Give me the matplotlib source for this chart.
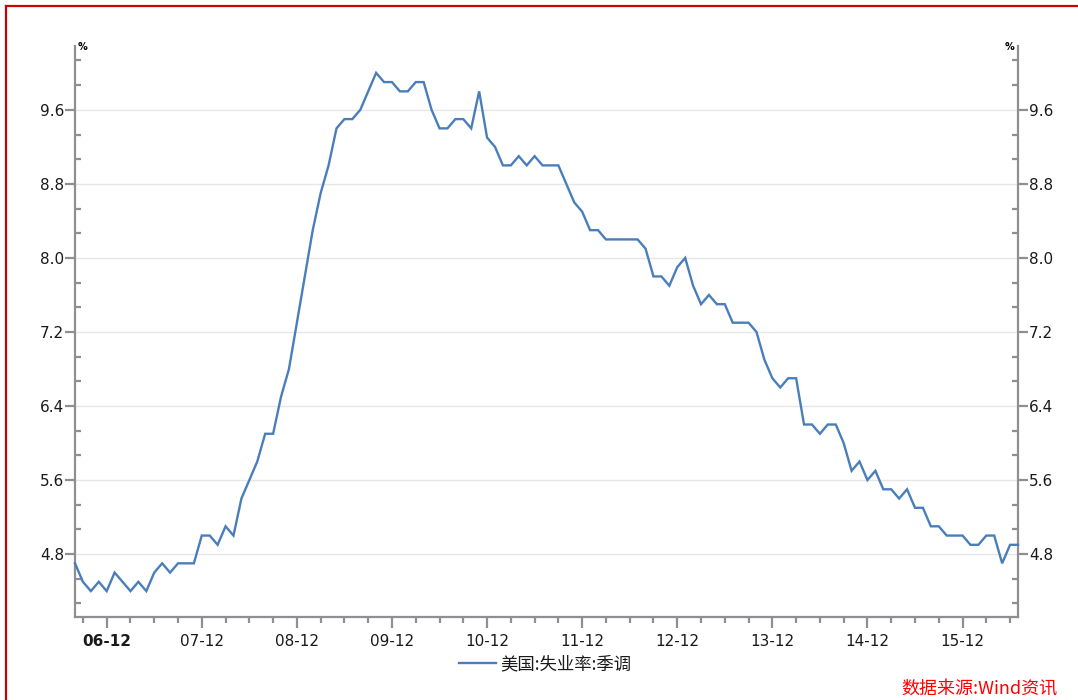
import matplotlib
matplotlib.use("Agg")
import matplotlib.pyplot as plt
from matplotlib.ticker import FixedLocator, NullFormatter
from matplotlib.lines import Line2D
import numpy as np

plt.rcParams['font.family'] = ['DejaVu Sans', 'Noto Sans CJK SC']

# Monthly US unemployment rate (SA), Aug 2006 .. Jul 2016
start_year, start_month = 2006, 8
rate = [
    4.7, 4.5, 4.4, 4.5, 4.4,                                      # 2006 Aug-Dec
    4.6, 4.5, 4.4, 4.5, 4.4, 4.6, 4.7, 4.6, 4.7, 4.7, 4.7, 5.0,   # 2007
    5.0, 4.9, 5.1, 5.0, 5.4, 5.6, 5.8, 6.1, 6.1, 6.5, 6.8, 7.3,   # 2008
    7.8, 8.3, 8.7, 9.0, 9.4, 9.5, 9.5, 9.6, 9.8, 10.0, 9.9, 9.9,  # 2009
    9.8, 9.8, 9.9, 9.9, 9.6, 9.4, 9.4, 9.5, 9.5, 9.4, 9.8, 9.3,   # 2010
    9.2, 9.0, 9.0, 9.1, 9.0, 9.1, 9.0, 9.0, 9.0, 8.8, 8.6, 8.5,   # 2011
    8.3, 8.3, 8.2, 8.2, 8.2, 8.2, 8.2, 8.1, 7.8, 7.8, 7.7, 7.9,   # 2012
    8.0, 7.7, 7.5, 7.6, 7.5, 7.5, 7.3, 7.3, 7.3, 7.2, 6.9, 6.7,   # 2013
    6.6, 6.7, 6.7, 6.2, 6.2, 6.1, 6.2, 6.2, 6.0, 5.7, 5.8, 5.6,   # 2014
    5.7, 5.5, 5.5, 5.4, 5.5, 5.3, 5.3, 5.1, 5.1, 5.0, 5.0, 5.0,   # 2015
    4.9, 4.9, 5.0, 5.0, 4.7, 4.9, 4.9,                            # 2016 Jan-Jul
]
x_labels = ['06-12', '07-12', '08-12', '09-12', '10-12', '11-12',
            '12-12', '13-12', '14-12', '15-12']
series_name = '美国:失业率:季调'
source_text = '数据来源:Wind资讯'
y_major = [4.8, 5.6, 6.4, 7.2, 8.0, 8.8, 9.6]

n = len(rate)
xs = np.arange(n)
# month index of each December label
dec_idx = [(2006 + i - start_year) * 12 + (12 - start_month) for i in range(len(x_labels))]
quarter_idx = [i for i in range(n) if ((start_month - 1 + i) % 12) in (2, 5, 8, 11)]

W, H = 1078, 700
fig = plt.figure(figsize=(W / 100, H / 100), dpi=100)
left, right, top, bottom = 75, 1018, 46, 617
ax = fig.add_axes([left / W, 1 - bottom / H, (right - left) / W, (bottom - top) / H])

line_color = '#4A7EBB'
axis_color = '#8E8E93'
ax.plot(xs, rate, color=line_color, lw=1.7, solid_joinstyle='miter', clip_on=False, zorder=3)

ax.set_xlim(0, n - 1)
ax.set_ylim(4.12, 10.29)

ax.spines['top'].set_visible(False)
for s in ['left', 'right', 'bottom']:
    ax.spines[s].set_color(axis_color)
    ax.spines[s].set_linewidth(1.6)

ax.yaxis.set_major_locator(FixedLocator(y_major))
ymin_list = []
step = 0.8 / 3
k = -3
while True:
    val = 4.8 + k * step
    if val > 10.29:
        break
    if val >= 4.12 and abs((val - 4.8) / 0.8 - round((val - 4.8) / 0.8)) > 1e-6:
        ymin_list.append(val)
    k += 1
ax.yaxis.set_minor_locator(FixedLocator(ymin_list))
ax.yaxis.set_minor_formatter(NullFormatter())
ax.set_yticklabels([f'{v:.1f}' for v in y_major])
ax.tick_params(axis='y', which='major', direction='out', length=7, width=1.6,
               color=axis_color, labelsize=11, pad=1, labelcolor='#1a1a1a',
               left=True, right=True, labelleft=True, labelright=True)
ax.tick_params(axis='y', which='minor', direction='in', length=4, width=1.6,
               color=axis_color, left=True, right=True)

ax.xaxis.set_major_locator(FixedLocator(dec_idx))
ax.xaxis.set_minor_locator(FixedLocator([q for q in quarter_idx if q not in dec_idx]))
ax.set_xticklabels(x_labels)
ax.xaxis.set_minor_formatter(NullFormatter())
ax.tick_params(axis='x', which='major', direction='out', length=8, width=1.6,
               color=axis_color, labelsize=11, pad=4, labelcolor='#1a1a1a')
ax.tick_params(axis='x', which='minor', direction='out', length=4, width=1.6,
               color=axis_color)
ax.get_xticklabels()[0].set_fontweight('bold')

ax.grid(axis='y', which='major', color='#E6E6E6', lw=1.0)
ax.set_axisbelow(True)

# % unit labels
fig.text(78 / W, 1 - 47 / H, '%', fontsize=7, fontweight='bold', ha='left', va='center')
fig.text(1014 / W, 1 - 47 / H, '%', fontsize=7, fontweight='bold', ha='right', va='center')

# legend
fig.add_artist(Line2D([459 / W, 496 / W], [1 - 663 / H, 1 - 663 / H], color=line_color, lw=1.7))
fig.text(500 / W, 1 - 664 / H, series_name, fontsize=12.5, ha='left', va='center',
         family=['Noto Sans CJK SC', 'DejaVu Sans'], color='#1a1a1a')

# source
fig.text(1057 / W, 1 - 690 / H, source_text, fontsize=13, ha='right', va='center',
         color='#FF0000', style='italic', family=['Noto Sans CJK SC', 'DejaVu Sans'])

# red frame
fig.add_artist(Line2D([6 / W, 1.0], [1 - 6 / H, 1 - 6 / H], color='#CC0000', lw=1.6))
fig.add_artist(Line2D([6 / W, 6 / W], [1 - 6 / H, 0], color='#CC0000', lw=1.6))

fig.savefig('out.png', dpi=100)
